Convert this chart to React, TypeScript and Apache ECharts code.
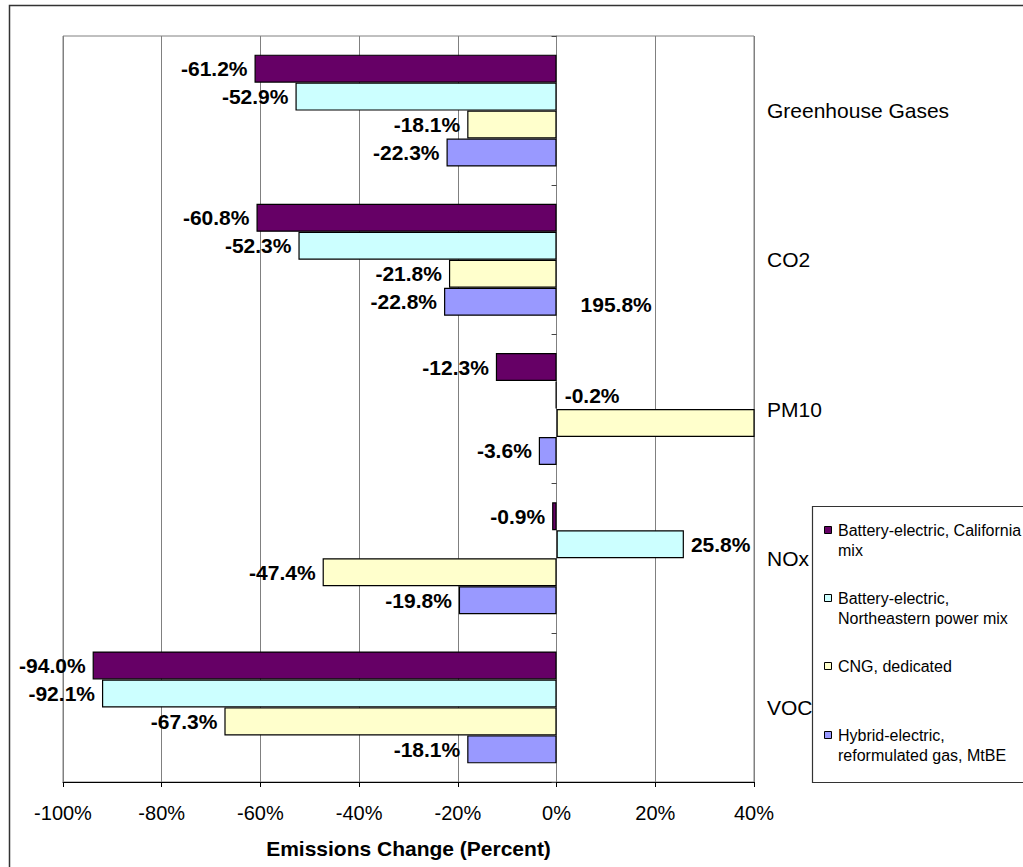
import React, { useEffect, useRef } from 'react';
import * as echarts from 'echarts';

// Emission categories, top to bottom
const categories = ['Greenhouse Gases', 'CO2', 'PM10', 'NOx', 'VOC'];

// Vehicle technologies (series) and their legend text lines
const seriesNames = [
  'Battery-electric, California mix',
  'Battery-electric, Northeastern power mix',
  'CNG, dedicated',
  'Hybrid-electric, reformulated gas, MtBE',
];
const legendLines = [
  ['Battery-electric, California', 'mix'],
  ['Battery-electric,', 'Northeastern power mix'],
  ['CNG, dedicated'],
  ['Hybrid-electric,', 'reformulated gas, MtBE'],
];

// Emissions change in percent, one value per category
const batteryCalifornia = [-61.2, -60.8, -12.3, -0.9, -94.0];
const batteryNortheast = [-52.9, -52.3, -0.2, 25.8, -92.1];
const cngDedicated = [-18.1, -21.8, 195.8, -47.4, -67.3];
const hybridElectric = [-22.3, -22.8, -3.6, -19.8, -18.1];

// Percent axis range and step
const axisMin = -100;
const axisMax = 40;
const axisStep = 20;

const seriesValues = [batteryCalifornia, batteryNortheast, cngDedicated, hybridElectric];
const seriesColors = ['#660066', '#CCFFFF', '#FFFFCC', '#9999FF'];

const FONT = '"Liberation Sans", Arial, sans-serif';

// Per-bar label placement tweaks (series index -> category index -> label options)
const labelOverrides: Record<number, Record<number, any>> = {
  1: { 2: { position: 'right', distance: 8 } },
  2: { 2: { position: 'insideLeft', distance: 0, offset: [24, -118] } },
};

function buildSeries() {
  return seriesValues.map((values, si) => ({
    name: seriesNames[si],
    type: 'bar',
    yAxisIndex: 0,
    barGap: '0%',
    barCategoryGap: '25%',
    itemStyle: { color: seriesColors[si], borderColor: '#000', borderWidth: 1.2 },
    data: values.map((v, ci) => ({
      value: v,
      label: {
        show: true,
        position: v < 0 ? 'left' : 'right',
        distance: 7,
        ...((labelOverrides[si] && labelOverrides[si][ci]) || {}),
      },
    })),
    label: {
      show: true,
      fontFamily: FONT,
      fontSize: 21,
      fontWeight: 'bold',
      color: '#000',
      formatter: (p: any) => `${Number(p.value).toFixed(1)}%`,
    },
  }));
}

function buildLegend() {
  const itemTops = [530, 598, 666, 735];
  const children: any[] = [];
  legendLines.forEach((lines, i) => {
    const cy = itemTops[i];
    children.push({
      type: 'rect',
      shape: { x: 824.5, y: cy - 3.5, width: 7, height: 7 },
      style: { fill: seriesColors[i], stroke: '#000', lineWidth: 1 },
    });
    lines.forEach((line, li) => {
      children.push({
        type: 'text',
        x: 838,
        y: cy + li * 20,
        style: {
          text: line,
          fontFamily: FONT,
          fontSize: 16,
          fill: '#000',
          verticalAlign: 'middle',
        },
      });
    });
  });
  return [
    {
      type: 'rect',
      shape: { x: 9.5, y: 5.5, width: 1100, height: 950 },
      style: { fill: 'none', stroke: '#333', lineWidth: 1.5 },
      silent: true,
    },
    {
      type: 'rect',
      shape: { x: 812.5, y: 506.5, width: 300, height: 276 },
      style: { fill: '#fff', stroke: '#333', lineWidth: 1.2 },
    },
    ...children,
  ];
}

export default function App() {
  const ref = useRef<HTMLDivElement>(null);

  useEffect(() => {
    if (!ref.current) return;
    const chart = echarts.init(ref.current, undefined, { renderer: 'svg' });
    chart.setOption({
      animation: false,
      backgroundColor: '#fff',
      grid: {
        left: 63,
        right: 269,
        top: 36,
        bottom: 85,
        show: true,
        borderColor: '#808080',
        borderWidth: 1,
        backgroundColor: 'transparent',
      },
      xAxis: {
        type: 'value',
        min: axisMin,
        max: axisMax,
        interval: axisStep,
        name: 'Emissions Change (Percent)',
        nameLocation: 'middle',
        nameGap: 56,
        nameTextStyle: { fontFamily: FONT, fontSize: 21, fontWeight: 'bold', color: '#000' },
        axisLine: { show: true, onZero: false, lineStyle: { color: '#000', width: 1 } },
        axisTick: { show: true, inside: false, length: 5, lineStyle: { color: '#000' } },
        axisLabel: {
          fontFamily: FONT,
          fontSize: 20,
          color: '#000',
          margin: 21,
          formatter: '{value}%',
        },
        splitLine: { show: true, lineStyle: { color: '#808080', width: 1 } },
      },
      yAxis: [
        {
          // category names along the right edge
          type: 'category',
          data: categories,
          inverse: true,
          position: 'right',
          axisLine: { show: false, onZero: false },
          axisTick: { show: false },
          axisLabel: { fontFamily: FONT, fontSize: 21, color: '#000', margin: 13 },
          splitLine: { show: false },
        },
        {
          // zero line with category tick marks
          type: 'category',
          data: categories,
          inverse: true,
          position: 'left',
          axisLine: {
            show: true,
            onZero: true,
            onZeroAxisIndex: 0,
            lineStyle: { color: '#808080', width: 1 },
          },
          axisTick: { show: true, inside: false, length: 5, lineStyle: { color: '#444' } },
          axisLabel: { show: false },
          splitLine: { show: false },
        },
      ],
      series: buildSeries(),
      graphic: buildLegend(),
    });
    return () => chart.dispose();
  }, []);

  return (
    <div
      ref={ref}
      style={{ position: 'absolute', left: 0, top: 0, width: 1023, height: 867 }}
    />
  );
}
